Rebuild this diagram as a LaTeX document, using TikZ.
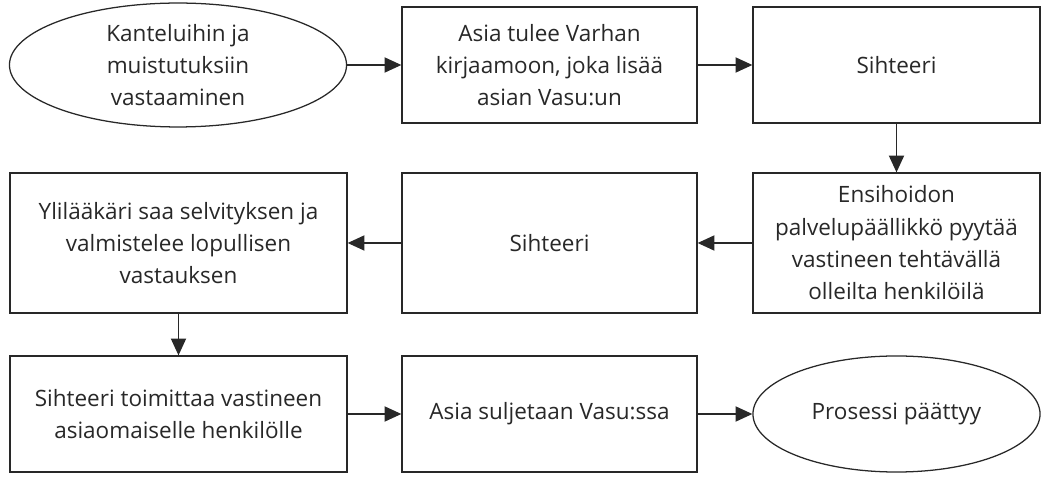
\documentclass[tikz,border=0pt]{standalone}
\usepackage{fontspec}
\setmainfont{Open Sans}
\usetikzlibrary{arrows.meta, positioning, shapes.geometric}
\definecolor{DG}{RGB}{40,40,40}
\definecolor{TX}{RGB}{40,40,40}

\begin{document}
\begin{tikzpicture}[
  x=0.025cm, y=-0.025cm,
  box/.style={draw=DG, line width=0.9pt, fill=white,
              minimum width=#1, minimum height=2.9cm,
              align=center, inner sep=2pt, text=TX,
              font=\fontsize{16}{23}\selectfont},
  tall/.style={minimum height=3.5cm},
  oval/.style={box=#1, ellipse},
  arr/.style={-{Triangle[length=0.42cm, width=0.38cm]}, line width=0.9pt, draw=DG}
]
\useasboundingbox (0,0) rectangle (1042,484);

% Row 1
\node[oval=8.425cm] (start)    at (178,65)    {Kanteluihin ja\\muistutuksiin\\vastaaminen};
\node[box=7.375cm]  (kirjaamo) at (549.5,65)  {Asia tulee Varhan\\kirjaamoon, joka lisää\\asian Vasu:un};
\node[box=7.175cm]  (siht1)    at (896.5,65)  {Sihteeri};

% Row 2
\node[box=7.175cm, tall] (palvelu) at (896.5,243) {Ensihoidon\\palvelupäällikkö pyytää\\vastineen tehtävällä\\olleilta henkilöilä};
\node[box=7.375cm, tall] (siht2)   at (549.5,243) {Sihteeri};
\node[box=8.425cm, tall] (ylil)    at (178.5,243) {Ylilääkäri saa selvityksen ja\\valmistelee lopullisen\\vastauksen};

% Row 3
\node[box=8.425cm]  (toimit) at (178.5,414) {Sihteeri toimittaa vastineen\\asiaomaiselle henkilölle};
\node[box=7.375cm]  (suljet) at (549.5,414) {Asia suljetaan Vasu:ssa};
\node[oval=7.175cm] (loppu)  at (896.5,414) {Prosessi päättyy};

\draw[arr] (start)--(kirjaamo);
\draw[arr] (kirjaamo)--(siht1);
\draw[arr] (siht1)--(palvelu);
\draw[arr] (palvelu)--(siht2);
\draw[arr] (siht2)--(ylil);
\draw[arr] (ylil)--(toimit);
\draw[arr] (toimit)--(suljet);
\draw[arr] (suljet)--(loppu);
\end{tikzpicture}
\end{document}
